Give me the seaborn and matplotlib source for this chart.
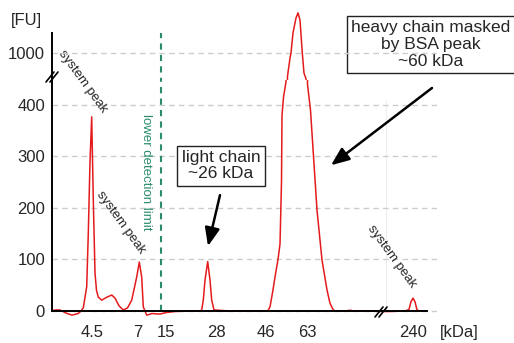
import matplotlib
matplotlib.use("Agg")
import matplotlib.pyplot as plt
import seaborn as sns
from matplotlib.lines import Line2D

# electropherogram, migration time (s) vs fluorescence (FU)
time = [20.2, 20.6, 21.0, 21.6, 22.2, 22.8, 23.0, 23.33, 23.67, 23.83, 24.0, 24.17, 24.33,
        24.5, 24.65, 24.83, 25.17, 25.6, 26.17, 26.5, 26.9, 27.33, 27.75, 28.17, 28.67,
        28.93, 29.17, 29.33, 29.67, 30.2, 31.0, 31.6, 32.5, 34.0, 35.0, 35.17, 35.33, 35.5,
        35.77, 36.0, 36.17, 36.4, 38.0, 40.0, 41.6, 41.8, 42.0, 42.3, 42.5, 42.8, 43.0,
        43.15, 43.2, 43.35, 43.6, 43.75, 44.0, 44.1, 44.3, 44.6, 44.8, 45.0, 45.23, 45.4,
        45.6, 45.75, 46.05, 46.7, 47.2, 47.7, 48.0, 48.3, 48.5, 49.5, 50.0, 50.4, 52.0,
        53.0, 54.0, 55.5, 55.9, 56.1, 56.3, 56.5, 56.7, 57.0, 57.5]
fu = [1, 2, 2, -4, -8, -5, -2, 6, 47, 151, 290, 377, 215,
      74, 40, 27, 21, 26, 31, 25, 10, 2, 6, 21, 66,
      95, 66, 8, -8, -5, -6, -3, -1, 0, 0, 2, 21, 60,
      96, 60, 21, 2, 0, 0, 0, 1, 8, 41, 66, 100, 130,
      250, 380, 415, 445, 955, 990, 1000, 1039, 1068, 1078, 1064, 1000, 961,
      950, 440, 390, 196, 99, 41, 15, 3, 0, 0, 1.5, 0, 0,
      -1, -1, 0, 3, 18, 25, 18, 2, 0, 0]

ladder_kda = ["4.5", "7", "15", "28", "46", "63", "240"]
ladder_time = [24.2, 28.8, 31.6, 36.6, 41.6, 45.7, 56.3]
lower_ticks = [0, 100, 200, 300, 400]
upper_ticks = [1000]
detect_limit = 31.15

red = "#e41a1c"
green = "#2a8c6c"

sns.set_style("white")
plt.rcParams["font.family"] = ["Liberation Sans", "DejaVu Sans"]

W, H = 514, 343
fig = plt.figure(figsize=(W / 100, H / 100), dpi=100)


def rect(x0, y0, x1, y1):
    return [x0 / W, 1 - y1 / H, (x1 - x0) / W, (y1 - y0) / H]


def fpx(x, y):
    return (x / W, 1 - y / H)


ax = fig.add_axes(rect(52, 80, 437, 316))
axt = fig.add_axes(rect(52, 10, 437, 80), sharex=ax)

for a in (ax, axt):
    sns.lineplot(x=time, y=fu, ax=a, color=red, lw=1.1, sort=False, estimator=None)
    a.set_facecolor("none")
    a.yaxis.grid(True, color="#cccccc", ls=(0, (4, 3)), lw=1)
    a.set_xlabel("")
    a.set_ylabel("")
    for s in ("top", "right"):
        a.spines[s].set_visible(False)
    a.spines["left"].set_linewidth(1.4)
    a.spines["left"].set_color("black")

ax.set_xlim(20.2, 58.7)
ax.set_ylim(-9.7, 448.5)
axt.set_ylim(947.6, 1083.5)

ax.set_yticks(lower_ticks)
axt.set_yticks(upper_ticks)
ax.set_xticks(ladder_time)
ax.set_xticklabels(ladder_kda)
ax.spines["bottom"].set_position(("data", 0))
ax.spines["bottom"].set_bounds(20.2, 57.7)
ax.spines["bottom"].set_linewidth(1.4)
ax.spines["bottom"].set_color("black")
ax.spines["left"].set_bounds(0, 448.5)
ax.tick_params(axis="x", direction="out", length=7, width=1.3, pad=3, labelsize=12)
ax.tick_params(axis="y", length=0, pad=5, labelsize=12)

axt.spines["bottom"].set_visible(False)
axt.spines["left"].set_bounds(947.6, 1039)
axt.tick_params(axis="x", bottom=False, labelbottom=False)
axt.tick_params(axis="y", length=0, pad=5, labelsize=12)

# lower detection limit
ax.vlines(detect_limit, 0, 460, color=green, ls=(0, (3, 2.5)), lw=1.5)
axt.vlines(detect_limit, 940, 1039, color=green, ls=(0, (3, 2.5)), lw=1.5)
ax.text(29.6, 270, "lower detection limit", rotation=270, color=green, fontsize=9.5,
        ha="center", va="center")

# faint marker after the x break
ax.vlines(53.6, 0, 410, color="#eeeeee", lw=0.8, zorder=0)

# system peak labels
ax.text(23.3, 445, "system peak", rotation=-54, fontsize=9.5, ha="center", va="center")
ax.text(27.1, 171, "system peak", rotation=-54, fontsize=9.5, ha="center", va="center")
ax.text(54.2, 105, "system peak", rotation=-54, fontsize=9.5, ha="center", va="center")

# annotation boxes
box = dict(boxstyle="square,pad=0.25", fc="white", ec="#222222", lw=1)
arrow = dict(arrowstyle="-|>,head_length=1.1,head_width=0.45", lw=1.8, color="black",
             mutation_scale=10, shrinkA=0, shrinkB=0)
ax.text(37.1, 282, "light chain\n~26 kDa", fontsize=12.5, ha="center", va="center",
        linespacing=1.1, bbox=box)
ax.annotate("", xy=(35.8, 126), xytext=(37.0, 225), arrowprops=arrow)
ax.text(58.1, 518, "heavy chain masked\nby BSA peak\n~60 kDa", fontsize=12.5, ha="center",
        va="center", linespacing=1.15, bbox=box, clip_on=False)
ax.annotate("", xy=(48.1, 283), xytext=(58.2, 433), arrowprops=arrow, annotation_clip=False)

# unit labels
fig.text(*fpx(26, 20), "[FU]", fontsize=12, ha="center", va="center")
fig.text(*fpx(459, 333), "[kDa]", fontsize=12, ha="center", va="center")

# axis break marks
for cx, cy in ((52, 77), (381, 312)):
    for off in (-2, 2):
        fig.add_artist(Line2D([(cx + off - 4) / W, (cx + off + 4) / W],
                              [1 - (cy + 5) / H, 1 - (cy - 5) / H],
                              color="black", lw=1.2))

fig.savefig("out.png", dpi=100)
